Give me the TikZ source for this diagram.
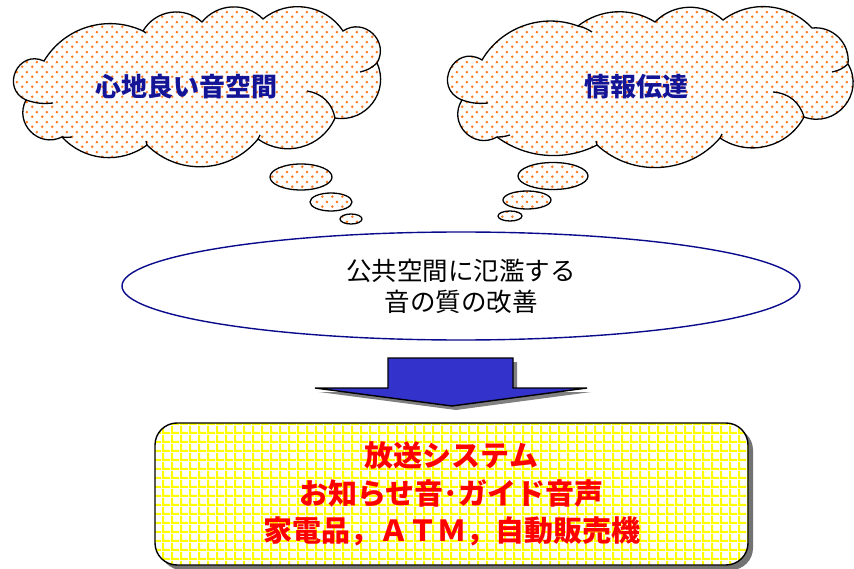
\documentclass[tikz,border=0pt]{standalone}
\usepackage{fontspec}
\newfontfamily\jp{Noto Sans CJK JP}
\usetikzlibrary{shapes.geometric,patterns,shadows}
\pgfdeclarepatternformonly{odots}{\pgfpointorigin}{\pgfpoint{10pt}{10pt}}{\pgfpoint{10pt}{10pt}}{%
  \pgfpathcircle{\pgfpoint{2.5pt}{2.5pt}}{1.5pt}%
  \pgfpathcircle{\pgfpoint{7.5pt}{7.5pt}}{1.5pt}%
  \pgfusepath{fill}}
\pgfdeclarepatternformonly{ygrid}{\pgfpointorigin}{\pgfpoint{9pt}{9pt}}{\pgfpoint{9pt}{9pt}}{%
  \pgfpathrectangle{\pgfpointorigin}{\pgfpoint{9pt}{2.4pt}}%
  \pgfpathrectangle{\pgfpointorigin}{\pgfpoint{2.4pt}{9pt}}%
  \pgfusepath{fill}}
\definecolor{cloudtxt}{RGB}{20,20,150}
\definecolor{dotor}{RGB}{255,120,30}
\definecolor{navyline}{RGB}{10,10,140}
\definecolor{arrowblue}{RGB}{51,51,204}
\begin{document}
\begin{tikzpicture}[x=1pt,y=-1pt,
  dotted fill/.style={preaction={fill=white},pattern=odots,pattern color=dotor,draw=black,line width=1.3pt},
  hook/.style={draw=black,line width=1.3pt},
  bubble/.style={ellipse,dotted fill,inner sep=0pt},
  cloudlabel/.style={font=\jp\bfseries\fontsize{26}{30}\selectfont,text=cloudtxt},
  mainell/.style={ellipse,draw=navyline,line width=1.4pt,fill=white,inner sep=0pt,align=center,
    font=\jp\fontsize{25.5}{31}\selectfont},
  resultbox/.style={rectangle,rounded corners=22pt,draw=black,line width=1.4pt,
    general shadow={shadow xshift=5pt,shadow yshift=-5pt,fill=black!55},
    preaction={fill=white},pattern=ygrid,pattern color=yellow,
    align=center,text=red,font=\jp\bfseries\fontsize{29}{37.5}\selectfont},
  bigarrow/.style={fill=arrowblue,draw=black,line width=1.4pt,line join=miter}]
\clip (0,0) rectangle (854,569);
\fill[white] (0,0) rectangle (854,569);

% left cloud
\path[dotted fill] (26,100)
  to[bend left=90,looseness=1.7]  (44,61)
  to[bend left=42,looseness=0.98] (143,31)
  to[bend left=51,looseness=1.05] (202,22)
  to[bend left=48,looseness=1.02] (263,19)
  to[bend left=48,looseness=1.02] (343,31)
  to[bend left=77,looseness=1.39] (377,63)
  to[bend left=62,looseness=1.16] (335,118)
  to[bend left=51,looseness=1.05] (258,139)
  to[bend left=48,looseness=1.02] (147,145)
  to[bend left=42,looseness=0.98] (62,137)
  to[bend left=72,looseness=1.30] (26,100) -- cycle;
\path[hook] (26,100) to[bend right=12] (53,103);
\path[hook] (62,137) to[bend right=8] (72,137);
\path[hook] (143,31) to[bend left=8] (146,33);
\path[hook] (335,118) to[bend right=35] (307,91);
\path[hook] (377,63) to[bend left=15] (360,72);
\path[hook] (258,139) to[bend right=10] (260,135);
\path[hook] (147,145) to[bend left=10] (146,141);
\node[cloudlabel] (t1) at (186,87) {心地良い音空間};
\node[bubble,minimum width=62,minimum height=26] (b11) at (301,177) {};
\node[bubble,minimum width=42,minimum height=18] (b12) at (331,202) {};
\node[bubble,minimum width=22,minimum height=10] (b13) at (351,219) {};

% right cloud
\path[dotted fill] (462,100)
  to[bend left=95,looseness=1.87] (482,60)
  to[bend left=40,looseness=0.96] (578,26)
  to[bend left=35,looseness=0.94] (655,22)
  to[bend left=44,looseness=0.99] (723,20)
  to[bend left=42,looseness=0.98] (812,28)
  to[bend left=51,looseness=1.05] (848,64)
  to[bend left=70,looseness=1.27] (804,117)
  to[bend left=48,looseness=1.02] (720,138)
  to[bend left=46,looseness=1.00] (597,145)
  to[bend left=32,looseness=0.92] (497,137)
  to[bend left=76,looseness=1.37] (462,100) -- cycle;
\path[hook] (462,100) to[bend right=12] (488,103);
\path[hook] (497,137) to[bend right=8] (510,135);
\path[hook] (578,26) to[bend left=10] (592,32);
\path[hook] (804,117) to[bend right=35] (773,92);
\path[hook] (848,64) to[bend left=15] (832,72);
\path[hook] (720,138) to[bend right=10] (722,134);
\path[hook] (597,145) to[bend left=10] (596,141);
\node[cloudlabel] (t2) at (636,87) {情報伝達};
\node[bubble,minimum width=70,minimum height=27] (b21) at (553,176) {};
\node[bubble,minimum width=48,minimum height=18] (b22) at (527,200) {};
\node[bubble,minimum width=24,minimum height=10] (b23) at (510,216) {};

% central ellipse
\node[mainell,minimum width=678,minimum height=108] (e) at (461,286) {公共空間に氾濫する\\音の質の改善};

% arrow
\coordinate (a1) at (388,358);
\fill[black!50,shift={(4,4)}] (388,358) -- (513,358) -- (513,388) -- (587,388) -- (452,406) -- (315,388) -- (388,388) -- cycle;
\draw[bigarrow] (a1) -- (513,358) -- (513,388) -- (587,388) -- (452,406) -- (315,388) -- (388,388) -- cycle;

% result box
\node[resultbox,minimum width=593,minimum height=142] (r) at (451.5,494) {放送システム\\お知らせ音･ガイド音声\\家電品，ＡＴＭ，自動販売機};
\end{tikzpicture}
\end{document}
